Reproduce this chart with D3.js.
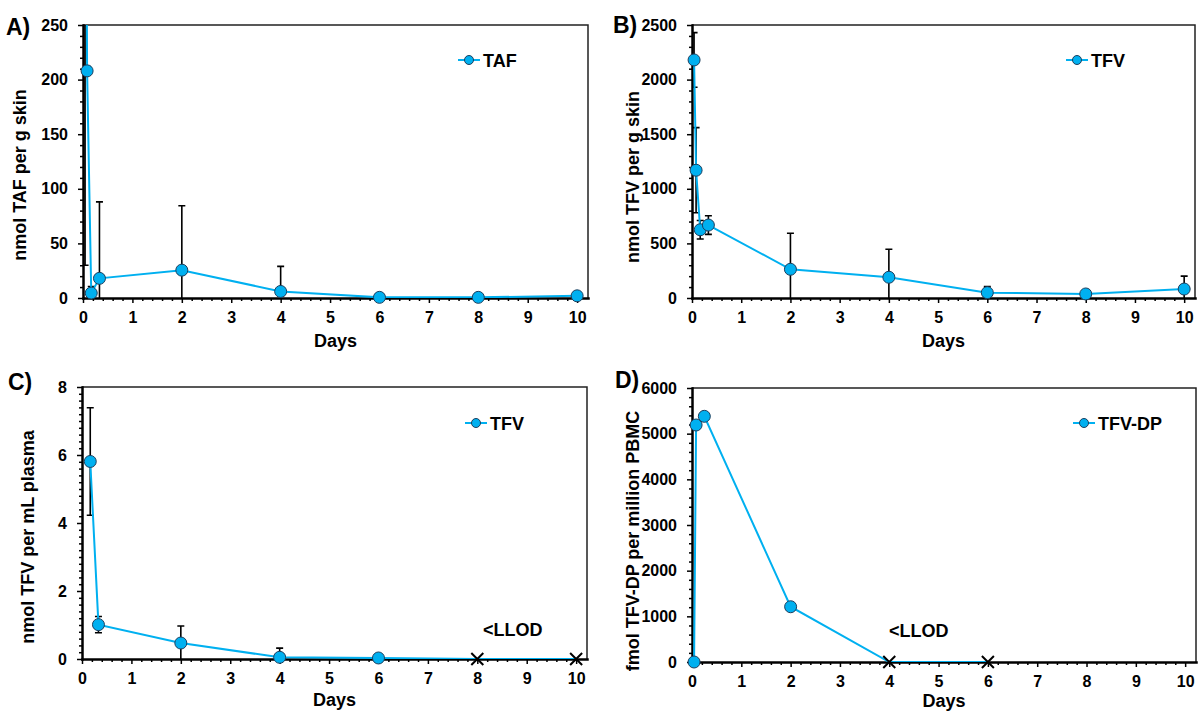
<!DOCTYPE html>
<html>
<head>
<meta charset="utf-8">
<script src="https://cdn.jsdelivr.net/npm/d3@7"></script>
<style>
body { margin: 0; background: #fff; }
svg { display: block; }
text { font-family: "Liberation Sans", Arial, sans-serif; font-weight: bold; fill: #000; }
</style>
</head>
<body>
<div id="container"></div>
<script>
// ---- data ----
// A) TAF in skin (nmol / g); first point is off scale
var tafDays = [0.042, 0.083, 0.167, 0.333, 2, 4, 6, 8, 10];
var tafMean = [600, 208, 4.5, 18, 25.5, 6, 0.6, 0.6, 2];
var tafSD   = [570, 4, 6, 70, 59, 23, 0, 0, 0];

// B) TFV in skin (nmol / g)
var tfvSkinDays = [0.042, 0.083, 0.167, 0.333, 2, 4, 6, 8, 10];
var tfvSkinMean = [2180, 1170, 625, 668, 263, 190, 49, 37, 82];
var tfvSkinSD   = [250, 390, 85, 85, 330, 256, 55, 10, 118];

// C) TFV in plasma (nmol / mL); last two below LLOD
var tfvPlasmaDays = [0.167, 0.333, 2, 4, 6, 8, 10];
var tfvPlasmaMean = [5.81, 1.01, 0.47, 0.05, 0.03, 0, 0];
var tfvPlasmaSD   = [1.58, 0.24, 0.5, 0.27, 0.02, 0, 0];
var tfvPlasmaLLOD = [false, false, false, false, false, true, true];

// D) TFV-DP in PBMC (fmol / million cells); last two below LLOD
var tfvdpDays = [0.042, 0.083, 0.25, 2, 4, 6];
var tfvdpMean = [0, 5190, 5380, 1210, 0, 0];
var tfvdpLLOD = [false, false, false, false, true, true];

var xTicks = d3.range(0, 11);
var xMax = 10.22;
var blue = "#00b0f0";

var svg = d3.select("#container").append("svg")
    .attr("width", 1198)
    .attr("height", 713);

var panels = [
    { id: "a", letter: "A)", series: "TAF", title: "nmol TAF per g skin",
      days: tafDays, mean: tafMean, sd: tafSD, llod: null,
      yMax: 250, yStep: 50, yMinor: 10,
      left: 83, right: 588, top: 25, bottom: 298, daysY: 347,
      titleX: 20, titleY: 175, letterX: 6, letterY: 35,
      legX: 458, legY: 60, llodX: null },
    { id: "b", letter: "B)", series: "TFV", title: "nmol TFV per g skin",
      days: tfvSkinDays, mean: tfvSkinMean, sd: tfvSkinSD, llod: null,
      yMax: 2500, yStep: 500, yMinor: 100,
      left: 692, right: 1195, top: 25, bottom: 298, daysY: 347,
      titleX: 633, titleY: 177, letterX: 613, letterY: 33,
      legX: 1066, legY: 60, llodX: null },
    { id: "c", letter: "C)", series: "TFV", title: "nmol TFV per mL plasma",
      days: tfvPlasmaDays, mean: tfvPlasmaMean, sd: tfvPlasmaSD, llod: tfvPlasmaLLOD,
      yMax: 8, yStep: 2, yMinor: 0.2,
      left: 82, right: 587, top: 387, bottom: 659, daysY: 706,
      titleX: 28, titleY: 537, letterX: 8, letterY: 390,
      legX: 465, legY: 423, llodX: 483, llodY: 636 },
    { id: "d", letter: "D)", series: "TFV-DP", title: "fmol TFV-DP per million PBMC",
      days: tfvdpDays, mean: tfvdpMean, sd: null, llod: tfvdpLLOD,
      yMax: 6000, yStep: 1000, yMinor: 200,
      left: 692, right: 1196, top: 388, bottom: 662, daysY: 707,
      titleX: 633, titleY: 541, letterX: 615, letterY: 388,
      legX: 1073, legY: 423, llodX: 889, llodY: 637 }
];

var style_axis = function(sel){
    sel.selectAll("line").attr("stroke", "#000").attr("stroke-width", 1.5);
    sel.selectAll("text").style("font-size", "16px").attr("fill", "#000");
    sel.select(".domain").attr("stroke", "#000").attr("stroke-width", 2.5)
	.attr("stroke-linecap", "square");
};

var draw_panel = function(p){
    var x = d3.scaleLinear().domain([0, xMax]).range([p.left, p.right]);
    var y = d3.scaleLinear().domain([0, p.yMax]).range([p.bottom, p.top]);
    var g = svg.append("g").classed("panel", true);

    g.append("clipPath").attr("id", "clip-" + p.id)
	.append("rect")
	.attr("x", p.left).attr("y", p.top)
	.attr("width", p.right - p.left).attr("height", p.bottom - p.top);

    // top and right frame
    g.append("path")
	.attr("d", "M" + p.left + "," + p.top + "H" + p.right + "V" + p.bottom)
	.attr("fill", "none").attr("stroke", "#222").attr("stroke-width", 1.5);

    // minor ticks
    var xMinor = d3.range(0, 51).filter(function(i){ return i % 5 != 0; })
	.map(function(i){ return i * 0.2; });
    var k = Math.round(p.yStep / p.yMinor);
    var yMinor = d3.range(0, Math.round(p.yMax / p.yMinor) + 1)
	.filter(function(i){ return i % k != 0; })
	.map(function(i){ return i * p.yMinor; });
    var yMajor = d3.range(0, Math.round(p.yMax / p.yStep) + 1)
	.map(function(i){ return i * p.yStep; });

    g.append("g").attr("transform", "translate(0," + p.bottom + ")")
	.call(d3.axisBottom(x).tickValues(xMinor).tickSize(3).tickFormat(""))
	.call(style_axis)
	.select(".domain").remove();
    g.append("g").attr("transform", "translate(" + p.left + ",0)")
	.call(d3.axisLeft(y).tickValues(yMinor).tickSize(3).tickFormat(""))
	.call(style_axis)
	.select(".domain").remove();

    // major axes
    g.append("g").attr("transform", "translate(0," + p.bottom + ")")
	.call(d3.axisBottom(x).tickValues(xTicks).tickSize(5).tickSizeOuter(0)
	      .tickPadding(9).tickFormat(d3.format("d")))
	.call(style_axis);
    g.append("g").attr("transform", "translate(" + p.left + ",0)")
	.call(d3.axisLeft(y).tickValues(yMajor).tickSize(5).tickSizeOuter(0)
	      .tickPadding(10).tickFormat(d3.format("d")))
	.call(style_axis);

    var pts = p.days.map(function(d, i){
	return { x: d, y: p.mean[i], sd: p.sd ? p.sd[i] : 0, llod: p.llod ? p.llod[i] : false };
    });

    var clipped = g.append("g").attr("clip-path", "url(#clip-" + p.id + ")");

    // error bars
    pts.filter(function(d){ return d.sd > 0; }).forEach(function(d){
	var cx = x(d.x);
	var lo = y(d.y - d.sd), hi = y(d.y + d.sd);
	clipped.append("path")
	    .attr("d", "M" + cx + "," + lo + "V" + hi
		  + "M" + (cx - 3.5) + "," + hi + "H" + (cx + 3.5)
		  + "M" + (cx - 3.5) + "," + lo + "H" + (cx + 3.5))
	    .attr("fill", "none").attr("stroke", "#000").attr("stroke-width", 1.6);
    });

    // line
    var line = d3.line()
	.x(function(d){ return x(d.x); })
	.y(function(d){ return y(d.y); });
    clipped.append("path")
	.datum(pts)
	.attr("d", line)
	.attr("fill", "none").attr("stroke", blue).attr("stroke-width", 2);

    // markers
    g.selectAll("circle.pt")
	.data(pts.filter(function(d){ return !d.llod && d.y <= p.yMax; }))
	.enter().append("circle").classed("pt", true)
	.attr("cx", function(d){ return x(d.x); })
	.attr("cy", function(d){ return y(d.y); })
	.attr("r", 6)
	.attr("fill", blue).attr("stroke", "#1d3f5e").attr("stroke-width", 1);

    g.selectAll("path.llod")
	.data(pts.filter(function(d){ return d.llod; }))
	.enter().append("path").classed("llod", true)
	.attr("transform", function(d){ return "translate(" + x(d.x) + "," + y(d.y) + ")"; })
	.attr("d", "M-6,-6L6,6M-6,6L6,-6")
	.attr("fill", "none").attr("stroke", "#000").attr("stroke-width", 2);

    if (p.llodX != null){
	g.append("text")
	    .attr("x", p.llodX).attr("y", p.llodY)
	    .style("font-size", "18px")
	    .text("<LLOD");
    }

    // legend
    g.append("line")
	.attr("x1", p.legX).attr("x2", p.legX + 22)
	.attr("y1", p.legY).attr("y2", p.legY)
	.attr("stroke", blue).attr("stroke-width", 2);
    g.append("circle")
	.attr("cx", p.legX + 11).attr("cy", p.legY).attr("r", 4.5)
	.attr("fill", blue).attr("stroke", "#1d3f5e").attr("stroke-width", 1);
    g.append("text")
	.attr("x", p.legX + 25).attr("y", p.legY + 6.5)
	.style("font-size", "18px")
	.text(p.series);

    // titles
    g.append("text")
	.attr("transform", "translate(" + p.titleX + "," + p.titleY + ") rotate(-90)")
	.attr("text-anchor", "middle")
	.attr("dy", "0.35em")
	.style("font-size", "18px")
	.text(p.title);

    g.append("text")
	.attr("x", (p.left + p.right) / 2).attr("y", p.daysY)
	.attr("text-anchor", "middle")
	.style("font-size", "18px")
	.text("Days");

    g.append("text")
	.attr("x", p.letterX).attr("y", p.letterY)
	.style("font-size", "23px")
	.text(p.letter);
};

panels.forEach(draw_panel);
</script>
</body>
</html>
